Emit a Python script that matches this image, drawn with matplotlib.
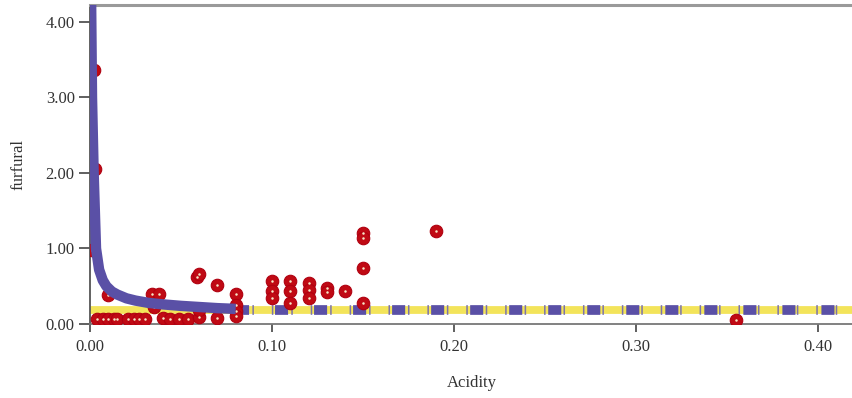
import matplotlib.pyplot as plt
from matplotlib.ticker import FormatStrFormatter

plt.rcParams['font.family'] = ['Liberation Serif', 'DejaVu Serif']
plt.rcParams['lines.scale_dashes'] = False

# observed points (Acidity, furfural)
acidity = [0.002, 0.003, 0.001,
           0.004, 0.007, 0.010, 0.013, 0.015, 0.010,
           0.021, 0.024, 0.027, 0.030, 0.034, 0.038, 0.035,
           0.040, 0.044, 0.049, 0.054, 0.060, 0.060, 0.059, 0.060,
           0.070, 0.070, 0.080, 0.080, 0.080, 0.080,
           0.100, 0.100, 0.100, 0.110, 0.110, 0.110,
           0.120, 0.120, 0.120, 0.130, 0.130, 0.140,
           0.150, 0.150, 0.150, 0.150, 0.190, 0.355]
furfural = [3.36, 2.05, 0.98,
            0.07, 0.07, 0.07, 0.07, 0.07, 0.38,
            0.07, 0.07, 0.07, 0.07, 0.40, 0.40, 0.22,
            0.08, 0.07, 0.07, 0.07, 0.09, 0.18, 0.62, 0.66,
            0.52, 0.08, 0.40, 0.25, 0.17, 0.11,
            0.57, 0.44, 0.34, 0.57, 0.44, 0.28,
            0.54, 0.45, 0.34, 0.48, 0.43, 0.44,
            1.20, 1.14, 0.74, 0.28, 1.23, 0.05]

# fitted curve
curve_x = [0.0006, 0.0011, 0.002, 0.0033, 0.005, 0.007, 0.009, 0.012,
           0.015, 0.02, 0.025, 0.032, 0.04, 0.05, 0.06, 0.07, 0.08]
curve_y = [4.3, 3.0, 2.0, 1.0, 0.72, 0.58, 0.50, 0.43,
           0.39, 0.34, 0.31, 0.28, 0.26, 0.24, 0.225, 0.21, 0.20]

# flat part of the fit + constant band
band_x = [0.0, 0.42]
band_y = [0.18, 0.18]
dash_x = [0.08, 0.42]
dash_y = [0.19, 0.19]

fig = plt.figure(figsize=(8.53, 3.98), dpi=100)
ax = fig.add_axes([90 / 853, 74 / 398, 763 / 853, 319 / 398])

ax.plot(band_x, band_y, color='#f3e45a', lw=5.6, solid_capstyle='butt', zorder=2)
ax.plot(dash_x, dash_y, color='#5a50a6', lw=7, linestyle=(0, (9.4, 18.7)),
        dash_capstyle='butt', zorder=3)
ax.plot(dash_x, dash_y, color='#7d74a8', lw=7, linestyle=(2.2, (1.1, 12.9)),
        dash_capstyle='butt', zorder=3)

ax.plot(acidity, furfural, 'o', color='#c00a14', ms=9, mec='#b00010', mew=0.8, zorder=4)
ax.plot(acidity, furfural, 'o', color='#f6e8c8', ms=1.8, mew=0, zorder=5)

ax.plot(curve_x, curve_y, color='#5a50a6', lw=7.5, solid_capstyle='butt',
        solid_joinstyle='round', zorder=6)

ax.set_xlim(0, 0.419)
ax.set_ylim(0, 4.225)
ax.set_xticks([0.0, 0.1, 0.2, 0.3, 0.4])
ax.set_yticks([0, 1, 2, 3, 4])
ax.xaxis.set_major_formatter(FormatStrFormatter('%.2f'))
ax.yaxis.set_major_formatter(FormatStrFormatter('%.2f'))

ax.spines['right'].set_visible(False)
ax.spines['left'].set_color('#555555')
ax.spines['left'].set_linewidth(1.3)
ax.spines['bottom'].set_color('#777777')
ax.spines['bottom'].set_linewidth(1.3)
ax.spines['top'].set_color('#9a9a9a')
ax.spines['top'].set_linewidth(2.2)

ax.tick_params(axis='both', colors='#444444', labelcolor='#333333', labelsize=12,
               width=1.2)
ax.tick_params(axis='y', length=8, pad=3)
ax.tick_params(axis='x', length=6, pad=5)

ax.set_xlabel('Acidity', fontsize=12, color='#333333', labelpad=14)
ax.set_ylabel('furfural', fontsize=12, color='#333333', labelpad=14)

fig.savefig('out.png', dpi=100)
